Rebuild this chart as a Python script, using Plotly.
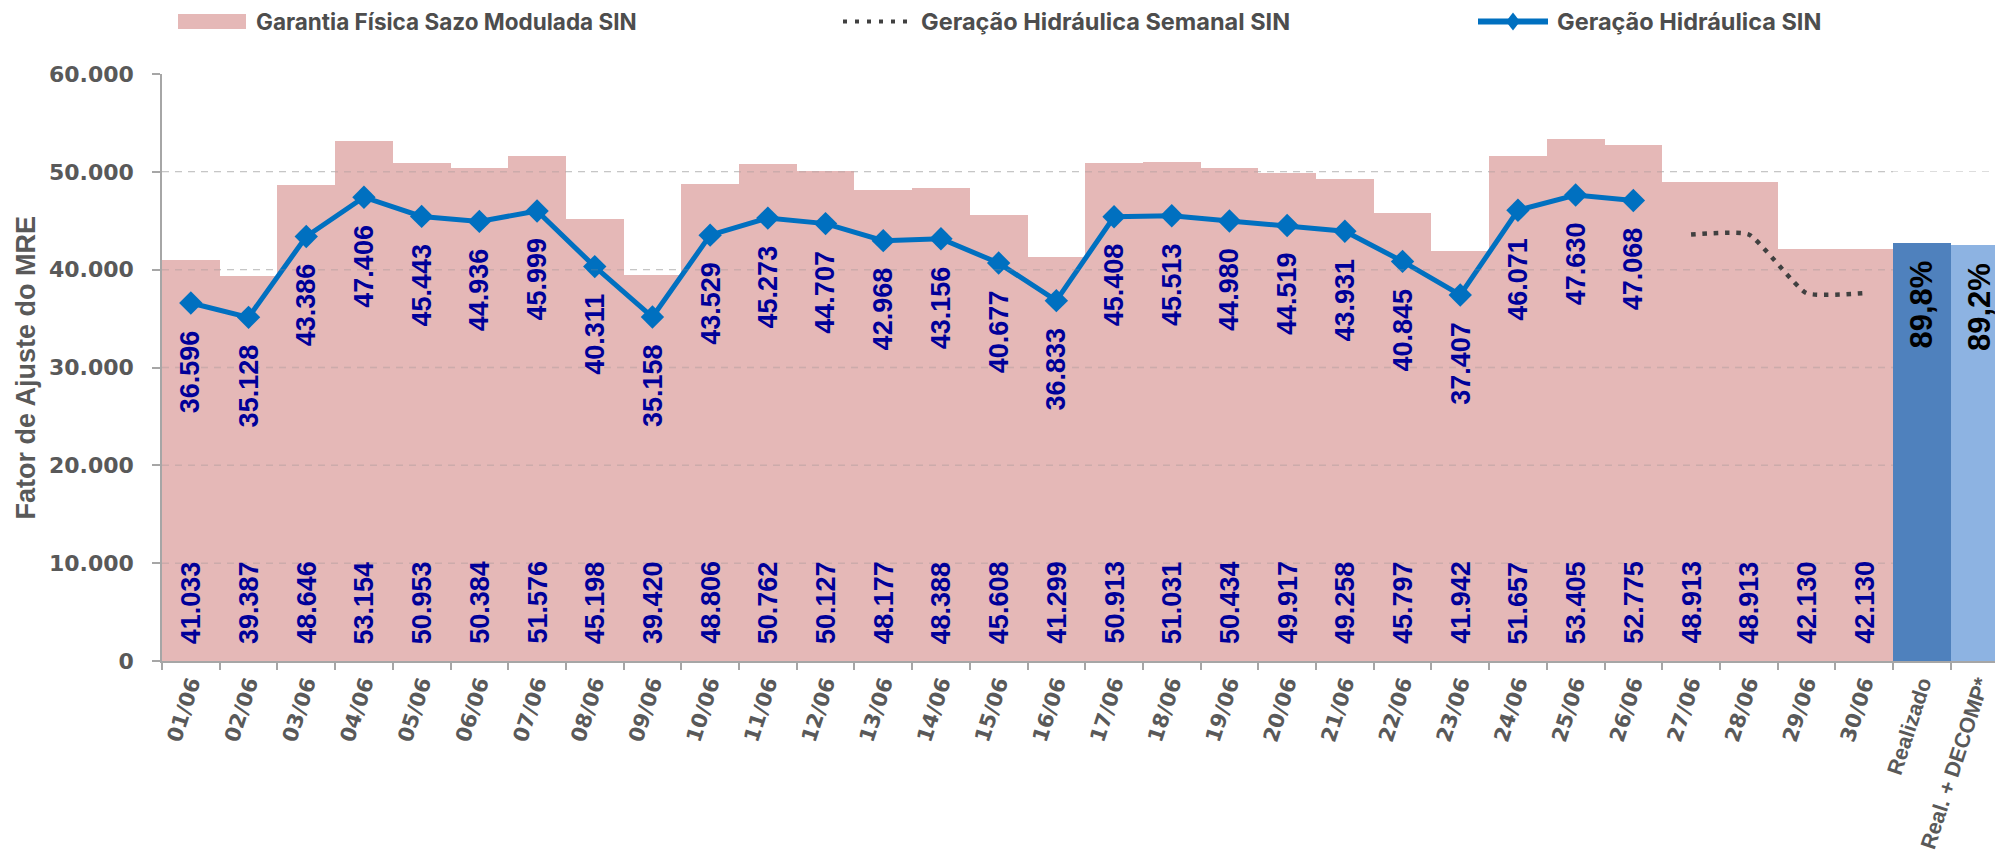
import plotly.graph_objects as go

# ---- data -------------------------------------------------------------
dias = ["01/06", "02/06", "03/06", "04/06", "05/06", "06/06", "07/06", "08/06",
        "09/06", "10/06", "11/06", "12/06", "13/06", "14/06", "15/06", "16/06",
        "17/06", "18/06", "19/06", "20/06", "21/06", "22/06", "23/06", "24/06",
        "25/06", "26/06", "27/06", "28/06", "29/06", "30/06"]

garantia_fisica = [41033, 39387, 48646, 53154, 50953, 50384, 51576, 45198,
                   39420, 48806, 50762, 50127, 48177, 48388, 45608, 41299,
                   50913, 51031, 50434, 49917, 49258, 45797, 41942, 51657,
                   53405, 52775, 48913, 48913, 42130, 42130]

geracao_dias = dias[:26]
geracao_hidraulica = [36596, 35128, 43386, 47406, 45443, 44936, 45999, 40311,
                      35158, 43529, 45273, 44707, 42968, 43156, 40677, 36833,
                      45408, 45513, 44980, 44519, 43931, 40845, 37407, 46071,
                      47630, 47068]

semanal_dias = ["27/06", "28/06", "29/06", "30/06"]
geracao_semanal = [43600, 43600, 37600, 37600]

mre_cats = ["Realizado", "Real. + DECOMP*"]
mre_pct = [89.8, 89.2]

y_ticks = [0, 10000, 20000, 30000, 40000, 50000, 60000]

# ---- styling ----------------------------------------------------------
W, H = 1995, 856
ML, MR, MT, MB = 162, 0, 74, 195
PW, PH = W - ML - MR, H - MT - MB
CAT_W = 57.7
X_MAX = -0.5 + PW / CAT_W

PINK = "#E5B8B7"
BLUE_LINE = "#0070C0"
LABEL_BLUE = "#000099"
GREY_TXT = "#595959"
LEG_TXT = "#4D4D4D"
AXIS_GREY = "#A6A6A6"
LBL_FONT = "Liberation Sans"


def br(v):
    return f"{v:,}".replace(",", ".")


def px_x(p):
    return (p - ML) / PW


def px_y(p):
    return (H - MB - p) / PH


fig = go.Figure()

fig.add_trace(go.Bar(
    x=dias, y=garantia_fisica, marker=dict(color=PINK, line=dict(width=0)),
    name="Garantia Física Sazo Modulada SIN", showlegend=False, hoverinfo="skip",
))

fig.add_trace(go.Bar(
    x=mre_cats, y=mre_pct, yaxis="y2",
    marker=dict(color=["#4F81BD", "#8DB3E2"], line=dict(width=0)),
    showlegend=False, hoverinfo="skip",
))

fig.add_trace(go.Scatter(
    x=semanal_dias, y=geracao_semanal, mode="lines",
    line=dict(color="#404040", width=4.5, dash="4.5px,6.8px", shape="spline", smoothing=0.45),
    name="Geração Hidráulica Semanal SIN", showlegend=False, hoverinfo="skip",
))

fig.add_trace(go.Scatter(
    x=geracao_dias, y=geracao_hidraulica, mode="lines+markers",
    line=dict(color=BLUE_LINE, width=5),
    marker=dict(symbol="diamond", size=18, color=BLUE_LINE),
    name="Geração Hidráulica SIN", showlegend=False, hoverinfo="skip",
))

annotations = []
# values at the base of each bar
for d, v in zip(dias, garantia_fisica):
    annotations.append(dict(
        x=d, y=0, xref="x", yref="y", text=br(v), showarrow=False,
        textangle=-90, xanchor="center", yanchor="bottom", yshift=15,
        font=dict(family=LBL_FONT, size=27, color=LABEL_BLUE, weight="bold"),
    ))
# values below each point of the line
for d, v in zip(geracao_dias, geracao_hidraulica):
    annotations.append(dict(
        x=d, y=v, xref="x", yref="y", text=br(v), showarrow=False,
        textangle=-90, xanchor="center", yanchor="top", yshift=-25,
        font=dict(family=LBL_FONT, size=27, color=LABEL_BLUE, weight="bold"),
    ))
# percentage bars
for c, v in zip(mre_cats, mre_pct):
    annotations.append(dict(
        x=c, y=v, xref="x", yref="y2", text=f"{v:.1f}%".replace(".", ","),
        showarrow=False, textangle=-90, xanchor="center", yanchor="top", yshift=-16,
        font=dict(family=LBL_FONT, size=31, color="#000000", weight="bold"),
    ))

# y-axis title
annotations.append(dict(
    x=px_x(25), y=0.5, xref="paper", yref="paper", text="Fator de Ajuste do MRE",
    showarrow=False, textangle=-90, xanchor="center", yanchor="middle",
    font=dict(family=LBL_FONT, size=27, color=GREY_TXT, weight="bold"),
))

# legend
LEG_Y = px_y(21.5)
legend_items = [
    (254, "Garantia Física Sazo Modulada SIN", 22.5),
    (919, "Geração Hidráulica Semanal SIN", 23.5),
    (1555, "Geração Hidráulica SIN", 23.5),
]
for xp, txt, fs in legend_items:
    annotations.append(dict(
        x=px_x(xp), y=LEG_Y, xref="paper", yref="paper", text=txt, showarrow=False,
        xanchor="left", yanchor="middle",
        font=dict(family="Inter", size=fs, color=LEG_TXT, weight="bold"),
    ))

shapes = [
    dict(type="rect", xref="paper", yref="paper", x0=px_x(178), x1=px_x(246),
         y0=px_y(29), y1=px_y(14), fillcolor=PINK, line=dict(width=0)),
    dict(type="line", xref="paper", yref="paper", x0=px_x(843), x1=px_x(913),
         y0=LEG_Y, y1=LEG_Y, line=dict(color="#404040", width=4, dash="4px,8px")),
    dict(type="line", xref="paper", yref="paper", x0=px_x(1478), x1=px_x(1548),
         y0=LEG_Y, y1=LEG_Y, line=dict(color=BLUE_LINE, width=6)),
    dict(type="path", xref="paper", yref="paper", xsizemode="pixel", ysizemode="pixel",
         xanchor=px_x(1513), yanchor=LEG_Y, path="M 0 -9 L 7 0 L 0 9 L -7 0 Z",
         fillcolor=BLUE_LINE, line=dict(width=0)),
]
# dashed grid lines drawn over the pink bars
for t in y_ticks[1:-1]:
    shapes.append(dict(
        type="line", xref="x", yref="y", x0=-0.5, x1=len(dias) - 0.5, y0=t, y1=t,
        layer="above", line=dict(color="rgba(140,140,140,0.28)", width=1.5, dash="7px,6px"),
    ))

# day labels use the wide face; the two summary categories use the narrow one
cats = dias + mre_cats
tick_text = dias + [
    f'<span style="font-family:{LBL_FONT};font-size:21.5px;font-weight:bold">{c}</span>'
    for c in mre_cats
]

fig.update_layout(
    width=W, height=H,
    margin=dict(l=ML, r=MR, t=MT, b=MB, autoexpand=False),
    paper_bgcolor="white", plot_bgcolor="white",
    barmode="overlay", bargap=0,
    separators=",.",
    showlegend=False,
    annotations=annotations,
    shapes=shapes,
    xaxis=dict(
        type="category", categoryorder="array", categoryarray=cats,
        tickmode="array", tickvals=cats, ticktext=tick_text,
        range=[-0.5, X_MAX], tickson="boundaries", ticks="outside", ticklen=7,
        tickcolor=AXIS_GREY, tickwidth=1.5, showline=True, linecolor=AXIS_GREY,
        linewidth=1.5, showgrid=False, tickangle=-72,
        tickfont=dict(family="DejaVu Sans", size=21, color=GREY_TXT, weight="bold"),
        fixedrange=True,
    ),
    yaxis=dict(
        range=[0, 60000], tickvals=y_ticks, tickformat=",d",
        ticks="outside", ticklen=8, tickcolor=AXIS_GREY, tickwidth=1.5,
        showline=True, linecolor=AXIS_GREY, linewidth=1.5,
        showgrid=True, gridcolor="#DDDDDD", gridwidth=1.2, griddash="7px,6px",
        zeroline=False, ticklabelstandoff=14,
        tickfont=dict(family="DejaVu Sans", size=22, color=GREY_TXT, weight="bold"),
        fixedrange=True,
    ),
    yaxis2=dict(
        range=[0, 126], overlaying="y", side="right", visible=False, fixedrange=True,
    ),
)

fig.write_html("out.html", config={"displayModeBar": False})
